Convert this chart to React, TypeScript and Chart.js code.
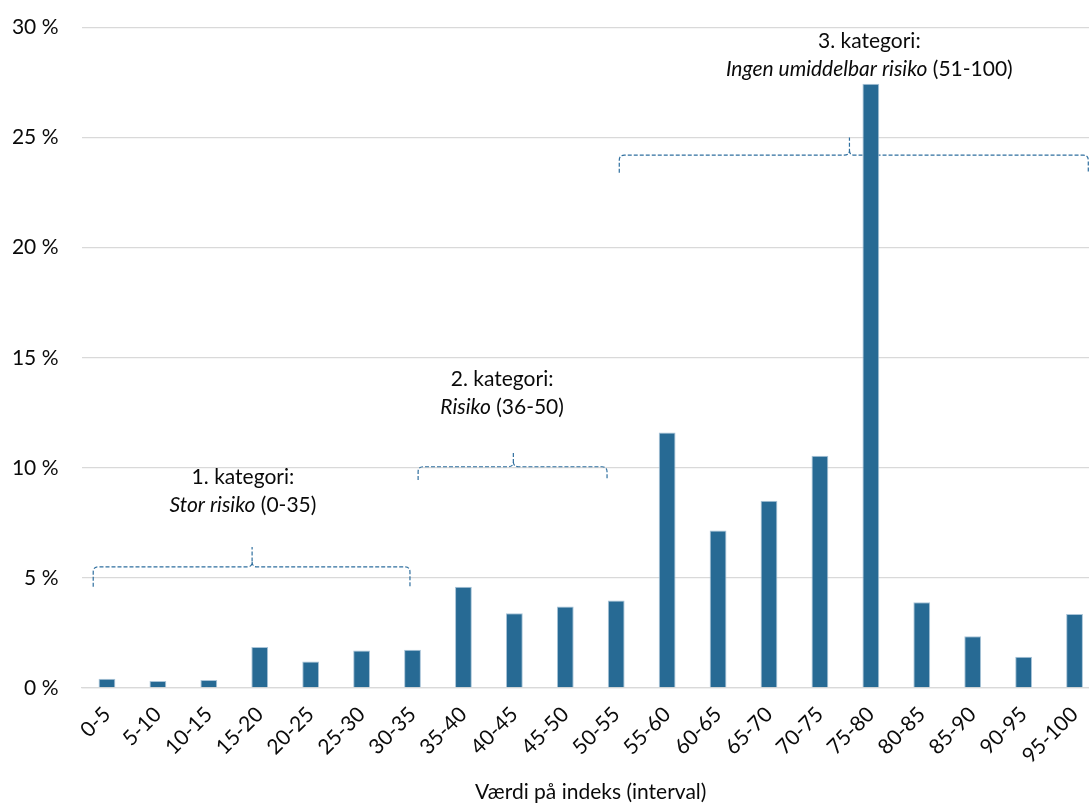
import React, { useEffect, useRef } from 'react';
import { Chart, registerables } from 'chart.js';

Chart.register(...registerables);

// ---- data ----
const categories = [
  '0-5', '5-10', '10-15', '15-20', '20-25', '25-30', '30-35', '35-40', '40-45', '45-50',
  '50-55', '55-60', '60-65', '65-70', '70-75', '75-80', '80-85', '85-90', '90-95', '95-100',
];
const shares = [
  0.42, 0.32, 0.36, 1.86, 1.2, 1.7, 1.74, 4.6, 3.39, 3.7,
  3.97, 11.6, 7.15, 8.5, 10.55, 27.45, 3.89, 2.35, 1.42, 3.36,
];
const yTickValues = [0, 5, 10, 15, 20, 25, 30];
const xTitle = 'Værdi på indeks (interval)';

// ---- category brace annotations (in data units: category index / percent) ----
const braceHeads = ['1. kategori:', '2. kategori:', '3. kategori:'];
const braceItalic = ['Stor risiko', 'Risiko', 'Ingen umiddelbar risiko'];
const braceRange = [' (0-35)', ' (36-50)', ' (51-100)'];
const braceFrom = [-0.27, 6.11, 10.06];
const braceTo = [5.95, 9.82, 19.27];
const braceTip = [2.85, 7.98, 14.58];
const braceLevel = [5.5, 10.05, 24.2];
const braceFoot = [4.6, 9.45, 23.4];
const bracePeak = [6.4, 10.7, 25.0];
const labelCenter = [2.67, 7.76, 14.97];
const labelLevel = [9.26, 13.73, 29.05];

const FONT = 'Lato';
const TEXT = '#0a0a0a';
const BAR = '#276a94';
const BRACE = '#2f6f9f';

const bracePlugin = {
  id: 'braces',
  beforeDatasetsDraw(chart: any) {
    const { ctx, scales } = chart;
    const xs = scales.x;
    const ys = scales.y;
    ctx.save();
    ctx.strokeStyle = BRACE;
    ctx.lineWidth = 1.2;
    ctx.setLineDash([4, 2]);
    for (let i = 0; i < braceFrom.length; i++) {
      const x1 = xs.getPixelForValue(braceFrom[i]);
      const x2 = xs.getPixelForValue(braceTo[i]);
      const xt = xs.getPixelForValue(braceTip[i]);
      const yh = ys.getPixelForValue(braceLevel[i]);
      const yf = ys.getPixelForValue(braceFoot[i]);
      const yp = ys.getPixelForValue(bracePeak[i]);
      const r = 5;
      ctx.beginPath();
      ctx.moveTo(x1, yf);
      ctx.lineTo(x1, yh + r);
      ctx.quadraticCurveTo(x1, yh, x1 + r, yh);
      ctx.lineTo(xt - r, yh);
      ctx.quadraticCurveTo(xt, yh, xt, yh - r);
      ctx.lineTo(xt, yp);
      ctx.moveTo(xt, yh - r);
      ctx.quadraticCurveTo(xt, yh, xt + r, yh);
      ctx.lineTo(x2 - r, yh);
      ctx.quadraticCurveTo(x2, yh, x2, yh + r);
      ctx.lineTo(x2, yf);
      ctx.stroke();
    }
    ctx.restore();
  },
  afterDatasetsDraw(chart: any) {
    const { ctx, scales } = chart;
    const xs = scales.x;
    const ys = scales.y;
    ctx.save();
    ctx.fillStyle = TEXT;
    ctx.textBaseline = 'alphabetic';
    const size = 21;
    const lineGap = 28;
    for (let i = 0; i < braceHeads.length; i++) {
      const cx = xs.getPixelForValue(labelCenter[i]);
      const y1 = ys.getPixelForValue(labelLevel[i]);
      ctx.font = `${size}px ${FONT}`;
      ctx.textAlign = 'center';
      ctx.fillText(braceHeads[i], cx, y1);
      ctx.textAlign = 'left';
      ctx.font = `italic ${size}px ${FONT}`;
      const wi = ctx.measureText(braceItalic[i]).width;
      ctx.font = `${size}px ${FONT}`;
      const wr = ctx.measureText(braceRange[i]).width;
      const start = cx - (wi + wr) / 2;
      ctx.font = `italic ${size}px ${FONT}`;
      ctx.fillText(braceItalic[i], start, y1 + lineGap);
      ctx.font = `${size}px ${FONT}`;
      ctx.fillText(braceRange[i], start + wi, y1 + lineGap);
    }
    ctx.restore();
  },
};

export default function App() {
  const canvasRef = useRef<HTMLCanvasElement | null>(null);

  useEffect(() => {
    document.body.style.margin = '0';
    document.body.style.overflow = 'hidden';
    const canvas = canvasRef.current;
    if (!canvas) return;
    Chart.defaults.font.family = FONT;
    Chart.defaults.color = TEXT;
    const chart = new Chart(canvas, {
      type: 'bar',
      data: {
        labels: categories,
        datasets: [
          {
            data: shares,
            backgroundColor: BAR,
            borderColor: '#a9c4d8',
            borderWidth: 1,
            barPercentage: 0.33,
            categoryPercentage: 1,
          },
        ],
      },
      options: {
        responsive: true,
        maintainAspectRatio: false,
        animation: false,
        layout: { padding: { top: 27.5, right: 0, bottom: 0, left: 0 } },
        plugins: {
          legend: { display: false },
          tooltip: { enabled: false },
          title: { display: false },
        },
        scales: {
          x: {
            grid: { display: false, drawTicks: false },
            border: { display: true, color: '#d9d9d9', width: 1.3 },
            ticks: {
              autoSkip: false,
              minRotation: 45,
              maxRotation: 45,
              padding: 14,
              font: { size: 21, family: FONT },
              color: TEXT,
            },
            title: {
              display: true,
              text: xTitle,
              font: { size: 21, family: FONT },
              color: TEXT,
              padding: { top: 30, bottom: 0 },
            },
            afterFit: (s: any) => {
              s.height = 117;
              s.paddingLeft = 0;
              s.paddingRight = 0;
            },
          },
          y: {
            min: 0,
            max: 30,
            grid: { color: '#d9d9d9', lineWidth: 1.3, drawTicks: false },
            border: { display: false },
            afterBuildTicks: (s: any) => {
              s.ticks = yTickValues.map((v) => ({ value: v }));
            },
            ticks: {
              padding: 23,
              font: { size: 21, family: FONT },
              color: TEXT,
              callback: (v: any) => `${v} %`,
            },
            afterFit: (s: any) => {
              s.width = 81.5;
              s.paddingTop = 0;
              s.paddingBottom = 0;
            },
          },
        },
      },
      plugins: [bracePlugin],
    });
    return () => chart.destroy();
  }, []);

  return (
    <div style={{ position: 'relative', width: 1089, height: 805, overflow: 'hidden', background: '#fff' }}>
      <div style={{ position: 'absolute', left: 0, top: 0, width: 1100, height: 805 }}>
        <canvas ref={canvasRef} />
      </div>
    </div>
  );
}
